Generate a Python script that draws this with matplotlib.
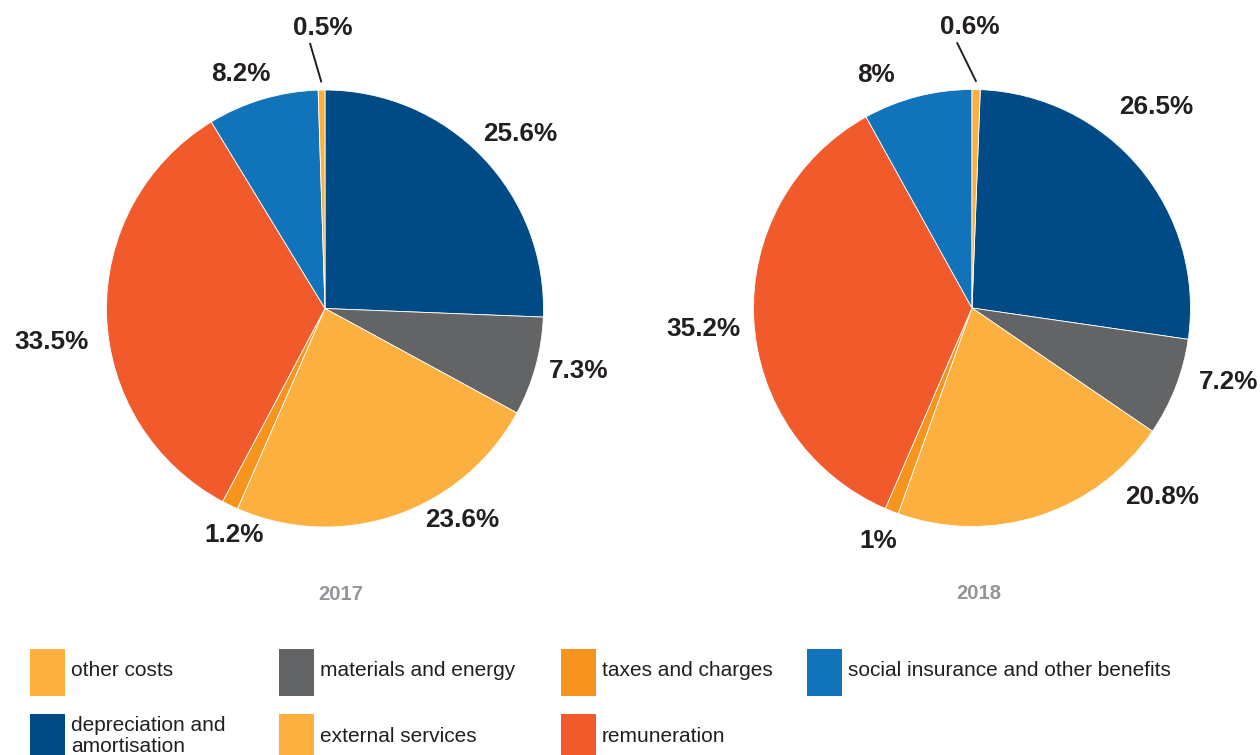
import numpy as np
import matplotlib
matplotlib.use("Agg")
import matplotlib.pyplot as plt
from matplotlib.patches import Rectangle

plt.rcParams["font.family"] = ["Liberation Sans", "DejaVu Sans"]

# ---- data (clockwise from the top) ----
CATEGORIES = ["depreciation and\namortisation", "materials and energy", "external services",
              "taxes and charges", "remuneration", "social insurance and other benefits",
              "other costs"]
VALUES_2017 = [25.6, 7.3, 23.6, 1.2, 33.5, 8.2, 0.5]
VALUES_2018 = [26.5, 7.2, 20.8, 1.0, 35.2, 8.0, 0.6]
YEARS = ["2017", "2018"]
LEGEND_ORDER = [6, 1, 3, 5, 0, 2, 4]   # row-wise, as in the original legend

# ---- palette ----
INK = "#231F20"
GREY_TXT = "#939598"
COLORS = ["#004B85", "#636466", "#FBB040", "#F7941E", "#F15A2B", "#1174BB", "#FBB040"]

# ---- layout (pixels of the 1260x755 canvas) ----
W, H = 1260, 755
R = 218.5
CENTERS = [(325, 308.5), (972, 308)]
# label angle nudge (deg) and radius (x R), per slice
NUDGES = [
    [(-2.1, 1.201), (1.6, 1.196), (14.0, 1.154), (3.9, 1.115), (5.2, 1.262), (3.1, 1.14), (-0.5, 1.285)],
    [(7.6, 1.248), (5.3, 1.224), (27.2, 1.227), (-0.4, 1.148), (1.7, 1.235), (7.9, 1.155), (1.5, 1.286)],
]
YEAR_X = [0.071, 0.033]
LEG_X = [30, 279, 561, 807]
LEG_Y = [649, 714]

fig = plt.figure(figsize=(W / 100, H / 100), dpi=100)
fig.patch.set_facecolor("white")

for k, vals in enumerate([VALUES_2017, VALUES_2018]):
    cx, cy = CENTERS[k]
    ax = fig.add_axes([(cx - R) / W, (H - cy - R) / H, 2 * R / W, 2 * R / H])
    # 2018 chart is rotated so the tiny "other costs" slice sits right of the top
    start = 90.0 if k == 0 else 90.0 - 360.0 * vals[-1] / sum(vals)
    wedges, _ = ax.pie(vals, colors=COLORS, startangle=start, counterclock=False, radius=1,
                       wedgeprops=dict(edgecolor="white", linewidth=0.6))
    ax.set_xlim(-1, 1); ax.set_ylim(-1, 1)
    ax.set_aspect("equal")
    ax.axis("off")

    for i, (w, v) in enumerate(zip(wedges, vals)):
        mid = 0.5 * (w.theta1 + w.theta2)
        dth, rf = NUDGES[k][i]
        a = np.deg2rad(mid + dth)
        lx, ly = rf * np.cos(a), rf * np.sin(a)
        ax.text(lx, ly, f"{v:g}%", ha="center", va="center", fontsize=18.8,
                fontweight="bold", color=INK)
        if i == len(vals) - 1:   # leader line for the tiny slice
            m = np.deg2rad(mid)
            ax.plot([1.035 * np.cos(m), lx - 0.06], [1.035 * np.sin(m), ly - 0.07],
                    color=INK, lw=1.4, solid_capstyle="butt", clip_on=False)

    ax.text(YEAR_X[k], -1.308, YEARS[k], ha="center", va="center", fontsize=14.6,
            fontweight="bold", color=GREY_TXT)

# ---- legend ----
for n, idx in enumerate(LEGEND_ORDER):
    row, col = divmod(n, 4)
    x0, y0 = LEG_X[col], LEG_Y[row]
    fig.add_artist(Rectangle((x0 / W, 1 - (y0 + 46.5) / H), 34.6 / W, 46.5 / H,
                             transform=fig.transFigure, facecolor=COLORS[idx], edgecolor="none"))
    fig.text((x0 + 41) / W, 1 - (y0 + 22) / H, CATEGORIES[idx], ha="left", va="center",
             fontsize=15, color=INK, linespacing=1.1)

fig.savefig("out.png", dpi=100, facecolor="white")
